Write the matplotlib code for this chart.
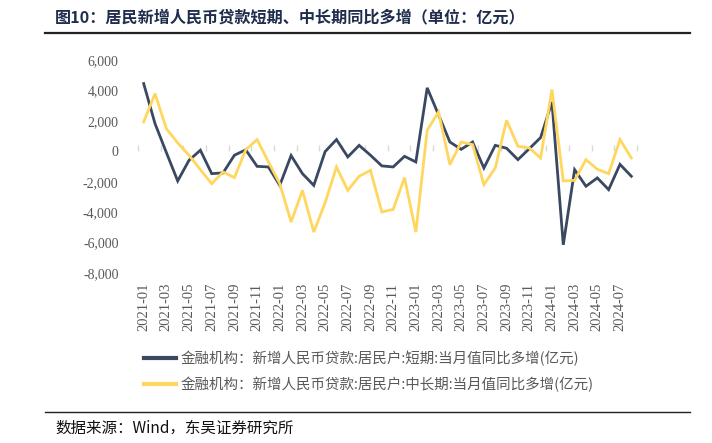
import matplotlib
matplotlib.use("Agg")
import matplotlib.pyplot as plt
import numpy as np

months = [f"{y}-{m:02d}" for y in range(2021, 2025) for m in range(1, 13)][:44]

short_term = [4450, 1820, -80, -1950, -590, 70, -1470, -1420, -260, 100, -990, -1030,
              -2240, -280, -1470, -2240, -20, 770, -370, 390, -260, -960, -1030, -330,
              -700, 4170, 2400, 610, 130, 610, -1100, 390, 200, -550, 170, 900,
              3240, -6150, -1210, -2300, -1750, -2520, -860, -1640]
long_term = [1930, 3790, 1490, 550, -260, -1210, -2130, -1360, -1730, 100, 770, -700,
             -2130, -4650, -2570, -5310, -3380, -1030, -2570, -1640, -1250, -3990, -3820, -1730,
             -5310, 1380, 2590, -880, 610, 440, -2190, -1100, 2040, 330, 220, -440,
             4060, -1950, -1910, -550, -1180, -1470, 770, -440]

label_short = "金融机构：新增人民币贷款:居民户:短期:当月值同比多增(亿元)"
label_long = "金融机构：新增人民币贷款:居民户:中长期:当月值同比多增(亿元)"
title = "图10：居民新增人民币贷款短期、中长期同比多增（单位：亿元）"
source = "数据来源：Wind，东吴证券研究所"
yticks = [6000, 4000, 2000, 0, -2000, -4000, -6000, -8000]

CJK = ['Noto Sans CJK SC', 'DejaVu Sans']
SERIF = ['Liberation Serif', 'DejaVu Serif']
GRAY = '#595959'
BLUE = '#3A4862'
YELLOW = '#FFD75E'

fig = plt.figure(figsize=(7.12, 4.43), dpi=100)
ax = fig.add_axes([138/712, 1-273/443, (637-138)/712, (273-60)/443])

x = np.arange(len(months))
ax.plot(x, short_term, color=BLUE, lw=2.0, label=label_short, solid_joinstyle='miter')
ax.plot(x, long_term, color=YELLOW, lw=2.0, label=label_long, solid_joinstyle='miter')

ax.set_xlim(-0.5, len(months) - 0.5)
ax.set_ylim(-8000, 6000)
ax.set_yticks(yticks)
ax.set_yticklabels([f"{v:,}" for v in yticks], fontfamily=SERIF, fontsize=10, color=GRAY)
ax.tick_params(axis='y', length=0, pad=14)

ax.set_xticks(x[::2])
ax.set_xticklabels(months[::2], rotation=90, fontfamily=SERIF, fontsize=10.5, color=GRAY)
ax.tick_params(axis='x', length=0, pad=7)
for s in ax.spines.values():
    s.set_visible(False)

# axis line at zero with boundary ticks
sec = ax.secondary_xaxis(8000/14000)
sec.set_xticks(np.arange(-0.5, len(months), 2))
sec.set_xticklabels([])
sec.tick_params(axis='x', direction='out', length=4, color='#D9D9D9', width=1)
sec.spines['bottom'].set_color('#D9D9D9')
sec.spines['bottom'].set_linewidth(1)
for k in ['top', 'left', 'right']:
    sec.spines[k].set_visible(False)

leg = fig.legend(loc='upper left', bbox_to_anchor=(138/712, 1-345/443), frameon=False,
                 prop={'family': CJK, 'size': 10.45}, handlelength=2.2, labelspacing=0.7,
                 handletextpad=0.35, borderaxespad=0)
for t in leg.get_texts():
    t.set_color(GRAY)
for h in leg.get_lines():
    h.set_linewidth(3)

fig.text(55/712, 1-17/443, title, fontfamily=CJK, fontsize=11.6, fontweight='bold',
         color='#1F2D4D', va='center', ha='left')
fig.add_artist(plt.Line2D([45/712, 690/712], [1-33/443, 1-33/443], color='#222222', lw=1.6))
fig.add_artist(plt.Line2D([45/712, 690/712], [1-412/443, 1-412/443], color='#222222', lw=1.0))
fig.text(55/712, 1-428/443, source, fontfamily=CJK, fontsize=11.2, color='#111111',
         va='center', ha='left')

fig.savefig("out.png", dpi=100)
